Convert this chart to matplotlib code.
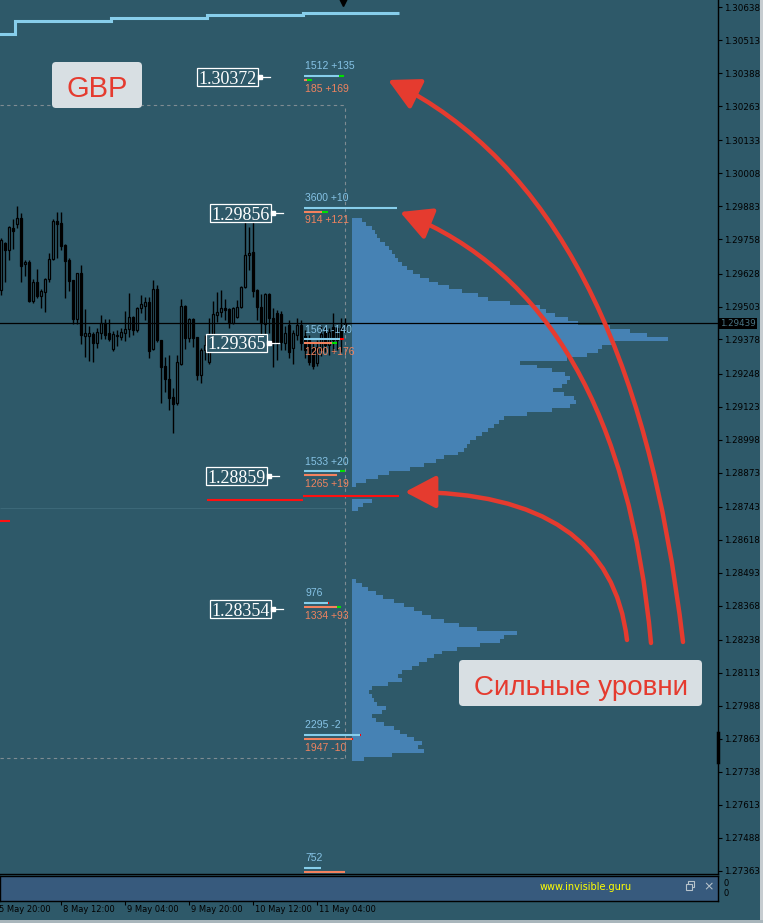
import numpy as np
import matplotlib
matplotlib.use("Agg")
import matplotlib.pyplot as plt
import matplotlib.transforms as mtransforms
from matplotlib.patches import FancyBboxPatch, FancyArrowPatch, Rectangle
from matplotlib.path import Path

plt.rcParams['font.family'] = ['DejaVu Sans']

# ---------------- data ----------------
# H1 candles, GBPUSD, 5 May 21:00 .. 11 May 11:00
opens = [
    1.29565, 1.29744, 1.29717, 1.29801, 1.29816, 1.29838, 1.29664, 1.29671, 1.29523, 1.29596,
    1.29542, 1.29558, 1.29607, 1.29683, 1.29827, 1.29819, 1.29736, 1.29679, 1.29603, 1.29455,
    1.29630, 1.29391, 1.29391, 1.29398, 1.29364, 1.29402, 1.29440, 1.29402, 1.29341, 1.29391,
    1.29387, 1.29402, 1.29417, 1.29463, 1.29413, 1.29497, 1.29504, 1.29520, 1.29341, 1.29569,
    1.29375, 1.29277, 1.29227, 1.29159, 1.29136, 1.29284, 1.29504, 1.29383, 1.29455, 1.29387,
    1.29243, 1.29337, 1.29292, 1.29375, 1.29470, 1.29482, 1.29497, 1.29493, 1.29440, 1.29463,
    1.29501, 1.29577, 1.29698, 1.29709, 1.29565, 1.29501, 1.29436, 1.29550, 1.29459, 1.29478,
    1.29474, 1.29364, 1.29432, 1.29345, 1.29394, 1.29432, 1.29391, 1.29375, 1.29349, 1.29288,
    1.29337, 1.29406, 1.29356, 1.29425, 1.29375, 1.29421, 1.29413]
highs = [
    1.29763, 1.29747, 1.29808, 1.29835, 1.29884, 1.29857, 1.29679, 1.29679, 1.29607, 1.29645,
    1.29569, 1.29610, 1.29706, 1.29835, 1.29861, 1.29861, 1.29740, 1.29687, 1.29603, 1.29630,
    1.29660, 1.29493, 1.29428, 1.29406, 1.29421, 1.29470, 1.29455, 1.29455, 1.29410, 1.29413,
    1.29421, 1.29485, 1.29554, 1.29466, 1.29501, 1.29546, 1.29539, 1.29539, 1.29603, 1.29584,
    1.29375, 1.29311, 1.29318, 1.29193, 1.29318, 1.29531, 1.29508, 1.29459, 1.29459, 1.29387,
    1.29345, 1.29394, 1.29459, 1.29523, 1.29558, 1.29565, 1.29531, 1.29497, 1.29501, 1.29527,
    1.29580, 1.29857, 1.29804, 1.29846, 1.29569, 1.29550, 1.29554, 1.29554, 1.29497, 1.29489,
    1.29485, 1.29428, 1.29451, 1.29413, 1.29459, 1.29451, 1.29413, 1.29394, 1.29364, 1.29375,
    1.29432, 1.29425, 1.29421, 1.29478, 1.29432, 1.29459, 1.29459]
lows = [
    1.29546, 1.29596, 1.29679, 1.29721, 1.29801, 1.29596, 1.29618, 1.29520, 1.29516, 1.29535,
    1.29497, 1.29482, 1.29596, 1.29679, 1.29687, 1.29717, 1.29535, 1.29561, 1.29436, 1.29436,
    1.29360, 1.29311, 1.29296, 1.29292, 1.29345, 1.29379, 1.29379, 1.29372, 1.29334, 1.29353,
    1.29375, 1.29372, 1.29387, 1.29394, 1.29406, 1.29478, 1.29451, 1.29307, 1.29337, 1.29368,
    1.29136, 1.29178, 1.29110, 1.29022, 1.29129, 1.29280, 1.29341, 1.29368, 1.29349, 1.29224,
    1.29212, 1.29299, 1.29284, 1.29356, 1.29444, 1.29463, 1.29451, 1.29421, 1.29436, 1.29459,
    1.29497, 1.29573, 1.29641, 1.29539, 1.29451, 1.29345, 1.29349, 1.29402, 1.29273, 1.29299,
    1.29337, 1.29337, 1.29307, 1.29284, 1.29375, 1.29337, 1.29307, 1.29280, 1.29265, 1.29277,
    1.29315, 1.29330, 1.29318, 1.29330, 1.29337, 1.29330, 1.29406]
closes = [
    1.29755, 1.29717, 1.29804, 1.29789, 1.29838, 1.29656, 1.29671, 1.29523, 1.29596, 1.29542,
    1.29561, 1.29607, 1.29683, 1.29827, 1.29816, 1.29732, 1.29675, 1.29599, 1.29455, 1.29630,
    1.29394, 1.29402, 1.29402, 1.29364, 1.29406, 1.29440, 1.29394, 1.29379, 1.29398, 1.29394,
    1.29406, 1.29417, 1.29463, 1.29413, 1.29497, 1.29512, 1.29520, 1.29334, 1.29569, 1.29375,
    1.29273, 1.29227, 1.29155, 1.29132, 1.29292, 1.29504, 1.29383, 1.29455, 1.29383, 1.29243,
    1.29337, 1.29356, 1.29394, 1.29474, 1.29482, 1.29497, 1.29489, 1.29440, 1.29497, 1.29501,
    1.29577, 1.29698, 1.29706, 1.29561, 1.29501, 1.29440, 1.29550, 1.29459, 1.29364, 1.29364,
    1.29368, 1.29402, 1.29330, 1.29402, 1.29432, 1.29364, 1.29337, 1.29292, 1.29277, 1.29349,
    1.29398, 1.29356, 1.29406, 1.29375, 1.29421, 1.29383, 1.29439]
last_price = 1.29439

time_labels = ["5 May 20:00", "8 May 12:00", "9 May 04:00", "9 May 20:00",
               "10 May 12:00", "11 May 04:00"]
time_bars = [-1, 15, 31, 47, 63, 79]

price_ticks = [1.30638, 1.30513, 1.30388, 1.30263, 1.30133, 1.30008, 1.29883,
               1.29758, 1.29628, 1.29503, 1.29378, 1.29248, 1.29123, 1.28998,
               1.28873, 1.28743, 1.28618, 1.28493, 1.28368, 1.28238, 1.28113,
               1.27988, 1.27863, 1.27738, 1.27613, 1.27488, 1.27363]

# daily step line on top, daily red lines near 1.2877
day_edges = [-1, 3.5, 27.5, 51.5, 75.5, 99.5]
day_high = [1.30537, 1.30587, 1.30597, 1.30608, 1.30615]
red_level = [1.28688, 1.28768, 1.28784]
red_from = [-1, 51.5, 75.5]
red_to = [2.2, 75.5, 99.5]

# volume profiles (rows of 0.00015)
profile_step = 0.00015
upper_top = 1.29838
upper_vol = [10, 14, 20, 23, 25, 28, 33, 37, 40, 43,
             46, 50, 55, 61, 68, 77, 86, 97, 110, 126,
             136, 158, 188, 194, 203, 216, 226, 258, 278, 295,
             316, 262, 250, 246, 235, 215, 168, 185, 200, 213,
             218, 215, 210, 201, 212, 222, 224, 218, 200, 175,
             152, 147, 142, 136, 130, 124, 118, 115, 112, 106,
             92, 84, 72, 58, 37, 26, 14, 4, 0, 0,
             0, 20, 11, 6]
lower_top = 1.28468
lower_vol = [4, 10, 16, 24, 31, 42, 52, 62, 70, 79,
             92, 107, 125, 165, 152, 148, 128, 105, 90, 82,
             75, 67, 60, 50, 46, 50, 36, 20, 17, 20,
             22, 25, 34, 30, 20, 24, 32, 42, 48, 55,
             62, 70, 66, 72, 40, 12]

# price labels in white boxes
box_prices = [1.30372, 1.29856, 1.29365, 1.28859, 1.28354]

# level statistics
lvl_price = [1.30362, 1.29862, 1.29363, 1.28862, 1.28363, 1.27862, 1.27359]
lvl_top = ["1512 +135", "3600 +10", "1564 -140", "1533 +20", "976", "2295 -2", "752"]
lvl_bottom = ["185 +169", "914 +121", "1200 +176", "1265 +19", "1334 +93", "1947 -10", ""]
lvl_blue = [8.75, 23.25, 9, 9, 6, 14, 4.25]
lvl_blue_tip = [1.25, 0, 1, 1.25, 0.3, 0.3, 0]
lvl_orange = [0.75, 4.5, 7, 8.25, 8.25, 12, 10.25]
lvl_orange_tip = [1.25, 1.5, 1.25, 0, 1, 0.3, 0]
lvl_blue_tc = ['#00e000', None, '#ff0000', '#00e000', '#ff0000', '#ff0000', None]
lvl_orange_tc = ['#00e000', '#00e000', '#00e000', None, '#00e000', '#ff0000', None]

# ---------------- layout / style ----------------
BG = '#2e5969'
PANEL = '#375a7d'
PROFILE = '#4682b4'
SKY = '#87ceeb'
SKY_TXT = '#86c3e6'
ORANGE = '#f4825e'
ORANGE_TXT = '#f0835f'
ARROW = '#e53b2f'
W, H = 763, 923
TOP, BOT = 1.30666, 1.27352
AX_H = 873.5
PX = (TOP - BOT) / AX_H          # price per pixel
BAR = 4.0                        # pixels per candle

fig = plt.figure(figsize=(W / 100, H / 100), dpi=100, facecolor=BG)
img = mtransforms.Affine2D().scale(1 / W, -1 / H).translate(0, 1) + fig.transFigure

ax = fig.add_axes([0, 1 - AX_H / H, 718 / W, AX_H / H])
ax.patch.set_visible(False)
ax.set_xlim(-0.3, -0.3 + 718 / BAR)
ax.set_ylim(BOT, TOP)

# profile on its own x scale (volume), below the candles
axv = ax.twiny()
axv.set_zorder(ax.get_zorder() - 1)
axv.set_xlim(-352, 366)
axv.axis('off')
for top, vols in ((upper_top, upper_vol), (lower_top, lower_vol)):
    centers = top - profile_step * (np.arange(len(vols)) + 0.5)
    axv.barh(centers, vols, height=profile_step, left=0, color=PROFILE,
             linewidth=0, antialiased=False)

# candles
o, h, l, c = map(np.array, (opens, highs, lows, closes))
x = np.arange(len(o))
up = c >= o
ax.vlines(x, l, h, color='black', lw=1.0, zorder=3)
body = np.maximum(np.abs(c - o), PX)
ax.bar(x, body, bottom=np.minimum(o, c), width=0.62,
       color=np.where(up, BG, 'black'), edgecolor='black', lw=0.9, zorder=4)

# lines
ax.axhline(last_price, color='black', lw=0.9, zorder=5)
ax.stairs(day_high, day_edges, color=SKY, lw=2.2, zorder=3, baseline=None)
ax.hlines(red_level, red_from, red_to, color='#ff1010', lw=1.5, zorder=5)
ax.hlines(1.28738, -0.3, 86, color='#3c6878', lw=0.8, zorder=2)
dash = dict(color='#7f8c92', lw=0.8, ls=(0, (3, 3)), zorder=2)
ax.hlines([1.30267, 1.27792], -0.3, 85.95, **dash)
ax.vlines(85.95, 1.27792, 1.30267, **dash)
ax.plot(85.5, TOP - 1 * PX, marker='v', ms=7, color='black', zorder=6)
ax.plot([1, 1], [1.27886, 1.27776], transform=ax.get_yaxis_transform(),
        color='black', lw=2.5, clip_on=False, zorder=6)

# level statistics
x0 = 75.7
for i, p in enumerate(lvl_price):
    pb = p + 4 * PX
    ax.hlines(pb, x0, x0 + lvl_blue[i], color=SKY, lw=1.5, zorder=6)
    if lvl_blue_tc[i]:
        ax.hlines(pb, x0 + lvl_blue[i], x0 + lvl_blue[i] + lvl_blue_tip[i],
                  color=lvl_blue_tc[i], lw=1.5, zorder=6)
    ax.hlines(p, x0, x0 + lvl_orange[i], color=ORANGE, lw=1.5, zorder=6)
    if lvl_orange_tc[i]:
        ax.hlines(p, x0 + lvl_orange[i], x0 + lvl_orange[i] + lvl_orange_tip[i],
                  color=lvl_orange_tc[i], lw=1.5, zorder=6)
    ax.text(x0 + 0.25, pb + 6.7 * PX, lvl_top[i], color=SKY_TXT, fontsize=7.5,
            family='Liberation Sans', va='baseline', ha='left', zorder=7)
    ax.text(x0 + 0.25, p - 11.5 * PX, lvl_bottom[i], color=ORANGE_TXT, fontsize=7.5,
            family='Liberation Sans', va='baseline', ha='left', zorder=7)

# white price boxes
box_right = [64.2, 67.45, 66.45, 66.45, 67.45]
for p, r in zip(box_prices, box_right):
    ax.add_patch(Rectangle((r - 15.25, p - 9 * PX), 15.25, 18 * PX, fc=BG,
                           ec='white', lw=0.9, zorder=8))
    ax.text(r - 7.6, p - 6.5 * PX, f'{p:.5f}', ha='center', va='baseline',
            family='Liberation Serif', fontsize=13, color='white', zorder=9)
    ax.plot([r + 0.3, r + 3], [p, p], color='white', lw=0.9, zorder=9)
    ax.plot(r + 0.55, p, 's', ms=2.3, color='white', zorder=9)

# price scale
ax.yaxis.tick_right()
ax.set_yticks(price_ticks)
ax.set_yticklabels([f'{t:.5f}' for t in price_ticks])
ax.tick_params(axis='y', direction='out', length=3, width=0.8, colors='black',
               labelsize=6.3, pad=1.5)
ax.set_xticks([])
for s in ('top', 'left'):
    ax.spines[s].set_visible(False)
for s in ('right', 'bottom'):
    ax.spines[s].set_color('black')
    ax.spines[s].set_linewidth(1)
ax.text(1.003, last_price, f'{last_price:.5f}', transform=ax.get_yaxis_transform(),
        ha='left', va='center', fontsize=6.3, color='#4a7585', clip_on=False,
        bbox=dict(boxstyle='square,pad=0.12', fc='black', ec='none'), zorder=10)

# indicator sub-window and time scale
axp = fig.add_axes([0, 1 - 900.5 / H, 718 / W, 25 / H], facecolor=PANEL)
axp.set_xlim(ax.get_xlim())
axp.set_ylim(0, 1)
axp.set_yticks([])
axp.set_xticks(time_bars[1:])
axp.set_xticklabels([])
axp.tick_params(axis='x', direction='out', length=3, width=0.8, color='black')
for s in axp.spines.values():
    s.set_color('black')
    s.set_linewidth(1)
for tb, lab in zip(time_bars, time_labels):
    axp.annotate(lab, xy=(tb, 0), xycoords=('data', 'axes fraction'),
                 xytext=(1.5, -3.5), textcoords='offset points', ha='left', va='top',
                 fontsize=6, color='black', annotation_clip=False)
fig.text(540, 887, 'www.invisible.guru', transform=img, color='#ffff00',
         fontsize=7, ha='left', va='center')
fig.text(723, 883, '0', transform=img, fontsize=6, color='black', va='center')
fig.text(723, 894, '0', transform=img, fontsize=6, color='black', va='center')
fig.add_artist(Rectangle((688, 881), 6, 6, transform=img, fc='none', ec='#b8c4cc', lw=0.8))
fig.add_artist(Rectangle((686, 884), 6, 6, transform=img, fc=PANEL, ec='#b8c4cc', lw=0.8))
fig.text(709, 887, '\u00d7', transform=img, fontsize=9, color='#b8c4cc',
         ha='center', va='center')

# callout boxes
callouts = [((52, 62, 142, 108), 'GBP', 97, 21),
            ((459, 660, 702, 706), 'Сильные уровни', 695, 20)]
for (bx0, by0, bx1, by1), txt, base, fs in callouts:
    fig.add_artist(FancyBboxPatch((bx0, by0), bx1 - bx0, by1 - by0,
                                  boxstyle='round,pad=0,rounding_size=4',
                                  transform=img, fc='#d8dfe3', ec='none'))
    fig.text((bx0 + bx1) / 2, base, txt, transform=img, ha='center', va='baseline',
             fontsize=fs, color=ARROW, family='Liberation Sans')

# red arrows pointing at the strong levels
arrows = [((683, 642), (632, 200), (388, 80)),
          ((651, 643), (620, 300), (400, 212)),
          ((627, 640), (610, 492), (405, 492))]
for p0, cp, p1 in arrows:
    path = Path([p0, cp, p1], [Path.MOVETO, Path.CURVE3, Path.CURVE3])
    fig.add_artist(FancyArrowPatch(path=path, transform=img, color=ARROW, lw=3.2,
                                   arrowstyle='-|>,head_length=19,head_width=10'))

# window edges
fig.add_artist(Rectangle((760, 0), 3, H, transform=img, fc='#c6ccd0', ec='none'))
fig.add_artist(Rectangle((0, 920), W, 3, transform=img, fc='#a9b6bc', ec='none'))

fig.savefig('out.png', dpi=100, facecolor=BG)
